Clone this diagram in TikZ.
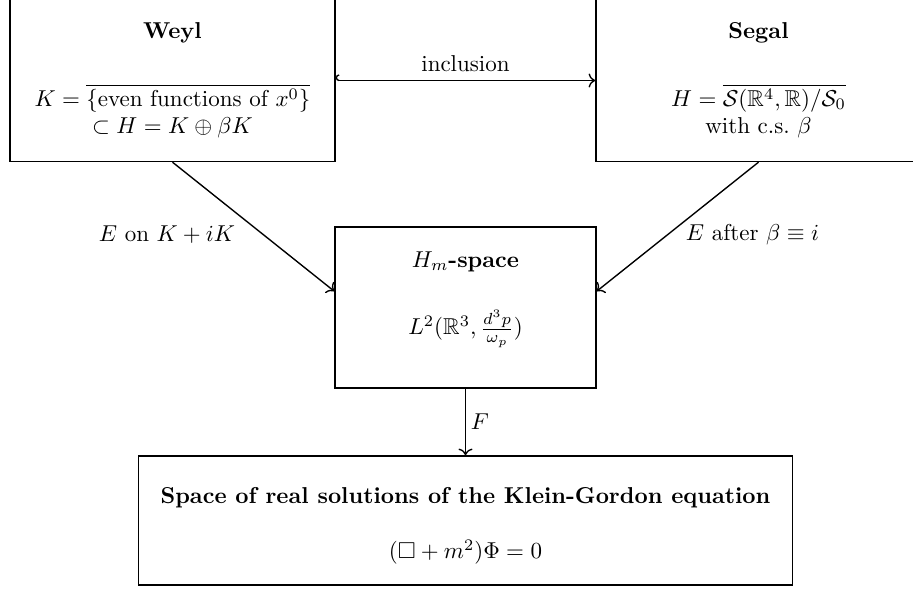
\documentclass[tikz,border=0pt]{standalone}
\usepackage{amsmath,amssymb}
\usetikzlibrary{arrows.meta,calc}
\newcommand{\pxu}{0.435pt}
\begin{document}
\begin{tikzpicture}[x=0.435pt,y=-0.435pt,
  box/.style={draw, line width=0.6pt, align=center, inner sep=0pt},
  boxtext/.style={align=center, inner sep=0pt},
  conn/.style={line width=0.6pt}]
\useasboundingbox (0,0) rectangle (913,590);
\node[box, minimum width=325*\pxu, minimum height=162*\pxu] (weyl) at (172.5,80.5)
  {\textbf{Weyl}\\[17.5pt] $K=\overline{\{\text{even functions of } x^0\}}$\\ $\subset H = K\oplus\beta K$};
\node[box, minimum width=325*\pxu, minimum height=162*\pxu] (segal) at (758.5,80.5)
  {\textbf{Segal}\\[17.5pt] $H=\overline{\mathcal{S}(\mathbb{R}^4,\mathbb{R})/\mathcal{S}_0}$\\ with c.s.\ $\beta$};
\node[box, minimum width=261*\pxu, minimum height=161*\pxu] (mid) at (465.5,307.5) {};
\node[boxtext] (midtext) at (465.5,299.5)
  {$H_m$\textbf{-space}\\[15.7pt] $L^2(\mathbb{R}^3,\frac{d^3p}{\omega_p})$};
\node[box, minimum width=654*\pxu, minimum height=129*\pxu] (kg) at (465.5,520.5) {};
\node[boxtext] (kgtext) at (465.5,526)
  {\textbf{Space of real solutions of the Klein-Gordon equation}\\[12pt] $(\Box+m^2)\Phi=0$};
\coordinate (mwl) at ($(mid.north west)!0.4!(mid.south west)$);
\coordinate (mel) at ($(mid.north east)!0.4!(mid.south east)$);
\draw[conn, {Hooks[right]}->] (weyl.east) -- node[above] {inclusion} (segal.west);
\draw[conn, ->] (weyl.south) -- node[pos=0.5, anchor=east, xshift=-10*\pxu, yshift=-8*\pxu] {$E$ on $K+iK$} (mwl);
\draw[conn, ->] (segal.south) -- node[pos=0.5, anchor=west, yshift=-8*\pxu] {$E$ after $\beta\equiv i$} (mel);
\draw[conn, ->] (mid.south) -- node[right, inner sep=2pt] {$F$} (kg.north);
\end{tikzpicture}
\end{document}
